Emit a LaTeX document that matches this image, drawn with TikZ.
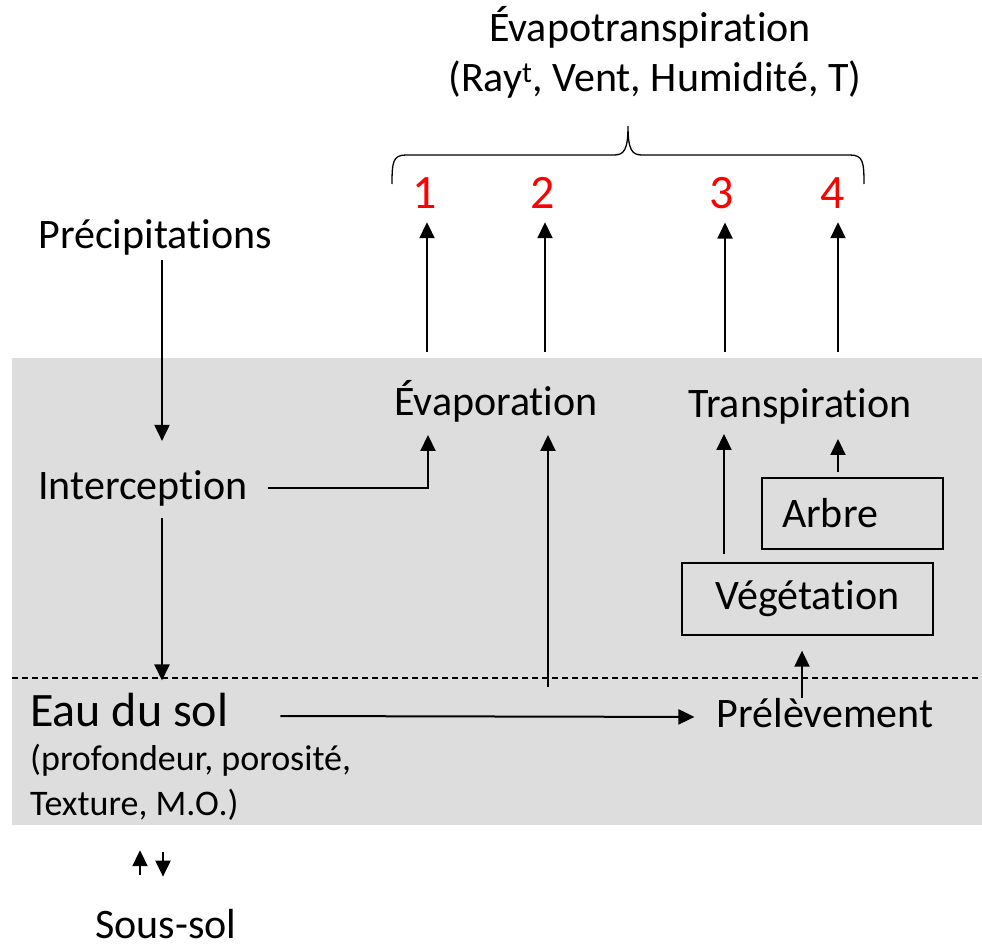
\documentclass[tikz,border=0pt]{standalone}
\usepackage{fontspec}
\setmainfont{Carlito}[Ligatures=NoCommon]
\usetikzlibrary{arrows.meta,positioning}
\definecolor{SoilClr}{RGB}{221,221,221}
\definecolor{NumClr}{RGB}{255,0,0}

\tikzset{
  txt/.style={inner sep=0pt, font=\fontsize{42}{50}\selectfont},
  num/.style={inner sep=0pt, text=NumClr, font=\fontsize{48}{56}\selectfont},
  box/.style={draw, line width=1.3pt, inner sep=0pt, font=\fontsize{42}{50}\selectfont},
  flow/.style={line width=2pt, -{Triangle[width=15pt,length=16pt]}},
}

\begin{document}
\begin{tikzpicture}[x=1pt,y=-1pt]
\useasboundingbox (0,0) rectangle (982,947);

% soil layer
\fill[SoilClr] (12,358) rectangle (982,825);
\draw[line width=1.2pt, dash pattern=on 6pt off 4pt] (12,678) -- (982,678);

% texts
\node[txt, anchor=base] (title) at (650,42) {Évapotranspiration};
\node[txt, anchor=base] (factors) at (655,92) {(Ray\textsuperscript{t}, Vent, Humidité, T)};

\node[num, anchor=base] (n1) at (425,208) {1};
\node[num, anchor=base] (n2) at (543,208) {2};
\node[num, anchor=base] (n3) at (722,208) {3};
\node[num, anchor=base] (n4) at (833,208) {4};

\node[txt, anchor=base] (precip) at (155,248) {Précipitations};
\node[txt, anchor=base] (intercep) at (143,499) {Interception};
\node[txt, anchor=base] (evap) at (496,415) {Évaporation};
\node[txt, anchor=base] (transp) at (800,417) {Transpiration};

\node[box, minimum width=181pt, minimum height=71pt, text width=141pt, align=left] (arbre) at (852.5,513.5) {Arbre};
\node[box, minimum width=251pt, minimum height=72pt] (veget) at (807.5,599) {Végétation};
\node[txt, anchor=base] (prelev) at (825,727) {Prélèvement};

\node[txt, anchor=base west, font=\fontsize{48}{56}\selectfont] (eausol) at (30,726) {Eau du sol};
\node[txt, anchor=base west, font=\fontsize{36}{42}\selectfont] (props1) at (30,770) {(profondeur, porosité,};
\node[txt, anchor=base west, font=\fontsize{36}{42}\selectfont] (props2) at (30,815) {Texture, M.O.)};
\node[txt, anchor=base] (soussol) at (166,938) {Sous-sol};

% brace over the four outputs
\draw[line width=1.3pt] (392,184) .. controls (392,162) and (393,155) .. (406,155) -- (614,155)
  .. controls (624,155) and (628,150) .. (628,126) .. controls (628,150) and (632,155) .. (642,155)
  -- (850,155) .. controls (863,155) and (864,162) .. (864,184);

% columns and free ends
\coordinate (e1) at (427,352);
\coordinate (e2) at (545,352);
\coordinate (e3) at (725,352);
\coordinate (e4) at (838,352);
\coordinate (ecol) at (548,687);
\coordinate (lcol) at (162,0);
\coordinate (icol) at (428,0);
\coordinate (tcol) at (724,0);
\coordinate (acol) at (838,0);
\coordinate (pcol) at (802,0);
\coordinate (ucol) at (140,0);
\coordinate (dcol) at (163,0);

% flows
\draw[flow, shorten >=14pt] (e1) -- (e1 |- n1.south);
\draw[flow, shorten >=14pt] (e2) -- (e2 |- n2.south);
\draw[flow, shorten >=14pt] (e3) -- (e3 |- n3.south);
\draw[flow, shorten >=14pt] (e4) -- (e4 |- n4.south);

\draw[flow, shorten <=5pt, shorten >=29pt] (precip.south -| lcol) -- (intercep.north -| lcol);
\draw[flow, shorten >=13pt] ([xshift=20pt]intercep.east) -| (evap.south -| icol);
\draw[flow, shorten <=12pt, shorten >=12pt] (intercep.south -| lcol) -- (eausol.north -| lcol);
\draw[flow, shorten >=13pt] (ecol) -- (evap.south -| ecol);

\draw[flow, shorten <=8pt, shorten >=10pt] (veget.north -| tcol) -- (transp.south -| tcol);
\draw[flow, shorten <=5pt, shorten >=15pt] (arbre.north -| acol) -- (transp.south -| acol);
\draw[flow, shorten >=15pt] (prelev.north -| pcol) -- (veget.south -| pcol);
\draw[flow, shorten >=22pt] ([xshift=52pt,yshift=10pt]eausol.base east) -- ([yshift=10pt]prelev.base west);

\draw[flow, shorten <=34pt, shorten >=30pt] (soussol.north -| ucol) -- (props2.south -| ucol);
\draw[flow, shorten <=32pt, shorten >=32pt] (props2.south -| dcol) -- (soussol.north -| dcol);

\end{tikzpicture}
\end{document}
